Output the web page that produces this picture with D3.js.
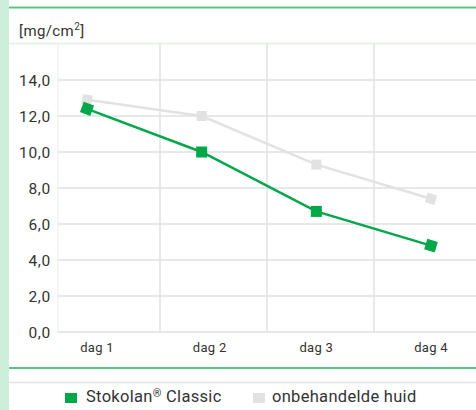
<!DOCTYPE html>
<html><head><meta charset="utf-8">
<script src="https://cdn.jsdelivr.net/npm/d3@7/dist/d3.min.js"></script>
<style>
html,body{margin:0;padding:0;background:#fff;}
text{font-family:Roboto,"DejaVu Sans",sans-serif;}
</style></head>
<body><svg id="c" width="476" height="410"></svg>
<script>
const categories = ["dag 1","dag 2","dag 3","dag 4"];
const stokolan = [12.4, 10.0, 6.7, 4.8];
const onbehandeld = [12.9, 12.0, 9.3, 7.4];
const yTicks = [0,2,4,6,8,10,12,14];
const seriesNames = ["Stokolan® Classic","onbehandelde huid"];
const unitLabel = "[mg/cm";

const svg = d3.select("#c");
const green = "#00a84a", grey = "#e2e2e2";

svg.append("rect").attr("x",0).attr("y",0).attr("width",9).attr("height",410).attr("fill","#cdeedb");
svg.append("line").attr("x1",9).attr("x2",476).attr("y1",7.5).attr("y2",7.5).attr("stroke","#5cc483").attr("stroke-width",2);
svg.append("line").attr("x1",9).attr("x2",476).attr("y1",43.5).attr("y2",43.5).attr("stroke","#e3f4e9").attr("stroke-width",2);
svg.append("line").attr("x1",9).attr("x2",476).attr("y1",368).attr("y2",368).attr("stroke","#5cc483").attr("stroke-width",2);
svg.append("line").attr("x1",9).attr("x2",476).attr("y1",382.5).attr("y2",382.5).attr("stroke","#e4e4e4").attr("stroke-width",1.5);

const unit = svg.append("text").attr("x",19).attr("y",36).attr("font-size",15).attr("letter-spacing",0.4).attr("fill","#333");
unit.append("tspan").text(unitLabel);
unit.append("tspan").attr("font-size",10).attr("dy",-6).text("2");
unit.append("tspan").attr("dy",6).text("]");

const y = d3.scaleLinear().domain([0,14]).range([332,80]);
const x = d3.scalePoint().domain(categories).range([87,431]);

svg.append("g").selectAll("line").data(yTicks).join("line")
  .attr("x1",57).attr("x2",476).attr("y1",d=>y(d)).attr("y2",d=>y(d))
  .attr("stroke","#e8e8e8").attr("stroke-width",2);
const vx = [58,160,267,374];
svg.append("g").selectAll("line").data(vx).join("line")
  .attr("x1",d=>d).attr("x2",d=>d).attr("y1",44).attr("y2",332)
  .attr("stroke",(d,i)=>i===0?"#f3f3f3":"#e2e2e2").attr("stroke-width",1.5);

const fmt = d=>d3.format(".1f")(d).replace(".",",");
svg.append("g").selectAll("text").data(yTicks).join("text")
  .attr("x",51).attr("y",d=>y(d)+5.5).attr("text-anchor","end")
  .attr("font-size",15.5).attr("letter-spacing",0.7).attr("fill","#333").text(fmt);

svg.append("g").selectAll("text").data(categories).join("text")
  .attr("x",d=>x(d)+ (d==="dag 1"?10:(d==="dag 2"?8:0))).attr("y",352).attr("text-anchor","middle")
  .attr("font-size",13).attr("letter-spacing",0.3).attr("fill","#333").text(d=>d);

function drawSeries(vals,color,size){
  const pts = vals.map((v,i)=>[x(categories[i]),y(v)]);
  svg.append("path").attr("d",d3.line()(pts)).attr("fill","none")
    .attr("stroke",color).attr("stroke-width",2.5);
  svg.append("g").selectAll("rect").data(pts).join("rect")
    .attr("x",-size/2).attr("y",-size/2).attr("width",size).attr("height",size)
    .attr("fill",color)
    .attr("transform",(p,i)=>{
      let a=0;
      if(i===0){const q=pts[1];a=Math.atan2(q[1]-p[1],q[0]-p[0])*180/Math.PI;}
      if(i===pts.length-1){const q=pts[i-1];a=Math.atan2(p[1]-q[1],p[0]-q[0])*180/Math.PI;}
      return `translate(${p[0]},${p[1]}) rotate(${a})`;
    });
}
drawSeries(onbehandeld,grey,10);
drawSeries(stokolan,green,11);

const lg = svg.append("g");
lg.append("rect").attr("x",65).attr("y",393).attr("width",12).attr("height",10).attr("fill",green);
const t1 = lg.append("text").attr("x",86).attr("y",402).attr("font-size",16.5).attr("letter-spacing",0.3).attr("fill","#333");
t1.append("tspan").text("Stokolan");
t1.append("tspan").attr("font-size",11).attr("dy",-5).text("®");
t1.append("tspan").attr("dy",5).text(" Classic");
lg.append("rect").attr("x",253).attr("y",393).attr("width",12).attr("height",10).attr("fill",grey);
lg.append("text").attr("x",272).attr("y",402).attr("font-size",16.5).attr("letter-spacing",0.3).attr("fill","#333").text(seriesNames[1]);
</script></body></html>
